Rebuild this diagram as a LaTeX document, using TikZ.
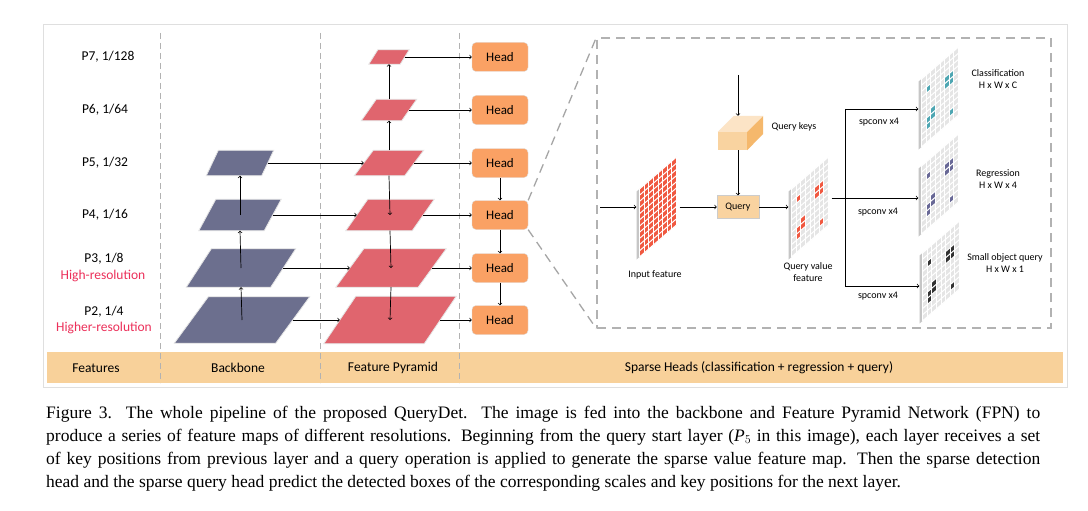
\documentclass[tikz,border=0pt]{standalone}
\usepackage{fontspec}
\setmainfont{Carlito}
\newfontfamily\capfont{Liberation Serif}
\definecolor{backbone}{RGB}{108,111,142}
\definecolor{pyramid}{RGB}{224,101,110}
\definecolor{headfill}{RGB}{250,161,100}
\definecolor{bandfill}{RGB}{248,209,154}
\definecolor{qfill}{RGB}{249,211,160}
\definecolor{cubetop}{RGB}{252,228,198}
\definecolor{cubeside}{RGB}{245,184,108}
\definecolor{hotcell}{RGB}{240,88,64}
\definecolor{clscell}{RGB}{78,166,178}
\definecolor{regcell}{RGB}{104,104,150}
\definecolor{objcell}{RGB}{50,50,50}
\definecolor{hires}{RGB}{236,48,90}
\tikzset{
  lbl/.style={font=\fontsize{13.5}{15}\selectfont},
  note/.style={font=\fontsize{10}{12}\selectfont, align=center},
  headbox/.style={draw=gray!25, fill=headfill, rounded corners=4pt, minimum width=56pt,
    minimum height=29pt, inner sep=0pt, font=\fontsize{13}{14}\selectfont},
  colsep/.style={gray!60, line width=0.9pt, dash pattern=on 6pt off 4pt},
  zoomline/.style={gray!70, line width=1.3pt, dash pattern=on 9pt off 6pt},
  arr/.style={->, line width=0.7pt},
  capline/.style={anchor=base west, inner sep=0pt, font=\capfont\fontsize{17.5}{20}\selectfont},
}
% slanted feature plane: name, x, y, width, height, half shear, colour
\newcommand{\plane}[7]{%
  \node[minimum width=#4pt, minimum height=#5pt, inner sep=0pt] (#1) at (#2,#3) {};
  \fill[#7, draw=gray!20, line width=0.8pt] ([xshift=-#6pt]#1.south west) -- ([xshift=-#6pt]#1.south east)
    -- ([xshift=#6pt]#1.north east) -- ([xshift=#6pt]#1.north west) -- cycle;}
% one cell of a feature map
\newcommand{\cell}[3]{\fill[#3] (-18.5+#1*4.625,-34+#2*6.18) rectangle ++(4.625,6.18);}
\newcommand{\hits}[1]{\foreach \c/\r in {1/2,5/3,5/4,6/3,6/4,1/7,1/8,2/6,2/7,6/9} {\cell{\c}{\r}{#1}}}
% feature map grid: name, x, y, cells
\newcommand{\fmap}[4]{%
  \node[minimum width=43pt, minimum height=100pt, inner sep=0pt] (#1) at (#2,#3) {};
  \begin{scope}[shift={(#2,#3)}, yslant=0.865]
    \fill[gray!45] (-21.5,-34) rectangle (-18.5,34);
    \fill[gray!20] (-18.5,-34) rectangle (18.5,34);
    #4
    \foreach \k in {0,...,8} \draw[white, line width=1pt] (-18.5+\k*4.625,-34) -- ++(0,68);
    \foreach \k in {0,...,11} \draw[white, line width=1pt] (-18.5,-34+\k*6.18) -- ++(37,0);
  \end{scope}}

\begin{document}
\begin{tikzpicture}[x=1pt, y=-1pt]
    \path[use as bounding box, fill=white] (0,0) rectangle (1088,511);

    % frame, bottom band and column separators
    \draw[gray!25, line width=1pt] (43,25) rectangle (1067,387);
    \fill[bandfill] (47,352) rectangle (1063,383);
    \foreach \x in {160,320,459} {
        \draw[colsep] (\x,33) -- (\x,383);
    }

    % scale labels
    \node[lbl] (l7) at (108,57) {P7, 1/128};
    \node[lbl] (l6) at (105,110) {P6, 1/64};
    \node[lbl] (l5) at (105,163) {P5, 1/32};
    \node[lbl] (l4) at (105,215) {P4, 1/16};
    \node[lbl] (l3) at (104,259) {P3, 1/8};
    \node[lbl, text=hires] (r3) at (103,276) {High-resolution};
    \node[lbl] (l2) at (104,312) {P2, 1/4};
    \node[lbl, text=hires] (r2) at (104,328) {Higher-resolution};

    % band labels
    \node[lbl] (t1) at (96,368) {Features};
    \node[lbl] (t2) at (238,368) {Backbone};
    \node[lbl] (t3) at (393,368) {Feature Pyramid};
    \node[lbl] (t4) at (759,368) {Sparse Heads (classification + regression + query)};

    % backbone and pyramid planes
    \foreach \n/\x/\y/\w/\h/\s in {bb5/240/163/55/25/6, bb4/240/215/65/31/8.5,
        bb3/241/268/84/38/12.5, bb2/242/320/101/46/17} {
        \plane{\n}{\x}{\y}{\w}{\h}{\s}{backbone}
    }
    \foreach \n/\x/\y/\w/\h/\s in {fp7/389/57/31/14/4.5, fp6/389/110/40/21/7.5,
        fp5/389/163/50/25/9.5, fp4/390/215/66/31/11, fp3/391/268/82/38/14, fp2/390/320/100/47/16} {
        \plane{\n}{\x}{\y}{\w}{\h}{\s}{pyramid}
    }

    % heads
    \foreach \i/\y in {7/57, 6/110, 5/163, 4/215, 3/268, 2/320} {
        \node[headbox] (h\i) at (500,\y) {Head};
    }

    % backbone, lateral and top-down connections
    \foreach \a/\b in {2/3, 3/4, 4/5} {
        \draw[arr] (bb\a.center) -- (bb\b.south);
    }
    \foreach \i in {2,...,5} {
        \draw[arr] (bb\i.east) -- (fp\i.west);
    }
    \draw[arr] (fp5.north) -- (fp6.south);
    \draw[arr] (fp6.north) -- (fp7.south);
    \foreach \a/\b in {5/4, 4/3, 3/2} {
        \draw[arr] (fp\a.south) -- (fp\b.center);
        \draw[arr] (h\a.south) -- (h\b.north);
    }
    \foreach \i in {2,...,7} {
        \draw[arr] (fp\i.east) -- (h\i.west);
    }

    % zoomed sparse head
    \node[draw=gray!60, line width=1.3pt, dash pattern=on 9pt off 6pt, minimum width=454pt,
        minimum height=290pt, inner sep=0pt] (detail) at (824,183) {};
    \draw[zoomline] (h4.north east) -- (detail.north west);
    \draw[zoomline] (h4.south east) -- (detail.south west);

    % input, query keys and query
    \fmap{infeat}{658}{207}{\fill[hotcell] (-18.5,-34) rectangle (18.5,34);}
    \node[note] (inlbl) at (655,275) {Input feature};
    \coordinate (fin) at (600,207);
    \draw[arr] (fin) -- (infeat.west);

    \node[draw=gray!40, fill=qfill, minimum width=42pt, minimum height=23pt, inner sep=0pt,
        font=\fontsize{10}{12}\selectfont] (qbox) at (738,207) {Query};
    \draw[arr] (infeat.east) -- (qbox.west);

    \node[fill=qfill, minimum width=29pt, minimum height=18pt, inner sep=0pt] (keys) at (732.5,141) {};
    \fill[cubetop] (keys.north west) -- ++(16,-16) -- ++(29,0) -- (keys.north east) -- cycle;
    \fill[cubeside] (keys.north east) -- ++(16,-16) -- ++(0,18) -- (keys.south east) -- cycle;
    \node[note, anchor=west] (keylbl) at (768,127) {Query keys};
    \coordinate (kin) at (738,75);
    \draw[arr] (kin) -- ([xshift=5.5pt, yshift=16pt]keys.north);
    \draw[arr] (keys.south -| qbox.north) -- (qbox.north);

    % query value feature
    \fmap{value}{810}{207}{\hits{hotcell}}
    \node[note] (vallbl) at (808,272) {Query value\\feature};
    \draw[arr] (qbox.east) -- (value.west);

    % outputs
    \fmap{cls}{940}{97}{\hits{clscell}}
    \fmap{reg}{940}{184}{\hits{regcell}}
    \fmap{obj}{941}{271}{\hits{objcell}}
    \node[note] (clslbl) at (998,79) {Classification\\H x W x C};
    \node[note] (reglbl) at (998,179) {Regression\\H x W x 4};
    \node[note] (objlbl) at (1005,263) {Small object query\\H x W x 1};

    \coordinate (split) at (845,198);
    \coordinate (ctop) at (845,109);
    \coordinate (cbot) at (845,286);
    \draw[line width=0.7pt] (value.east |- split) -- (split);
    \draw[line width=0.7pt] (ctop) -- (cbot);
    \draw[arr] (split) -- (split -| reg.west);
    \draw[arr] (ctop) -- (ctop -| cls.west);
    \draw[arr] (cbot) -- (cbot -| obj.west);
    \node[note] (sp1) at (879,122) {spconv x4};
    \node[note] (sp2) at (878,212) {spconv x4};
    \node[note] (sp3) at (878,296) {spconv x4};

    % caption
    \node[capline] (cap1) at (46,418) {\makebox[994pt][s]{Figure 3.\ \ The whole pipeline of the proposed QueryDet.\ \ The image is fed into the backbone and Feature Pyramid Network (FPN) to}};
    \node[capline] (cap2) at (46,441) {\makebox[994pt][s]{produce a series of feature maps of different resolutions. Beginning from the query start layer (\textit{P}$_5$ in this image), each layer receives a set}};
    \node[capline] (cap3) at (46,464) {\makebox[994pt][s]{of key positions from previous layer and a query operation is applied to generate the sparse value feature map. Then the sparse detection}};
    \node[capline] (cap4) at (46,487) {head and the sparse query head predict the detected boxes of the corresponding scales and key positions for the next layer.};
\end{tikzpicture}
\end{document}
